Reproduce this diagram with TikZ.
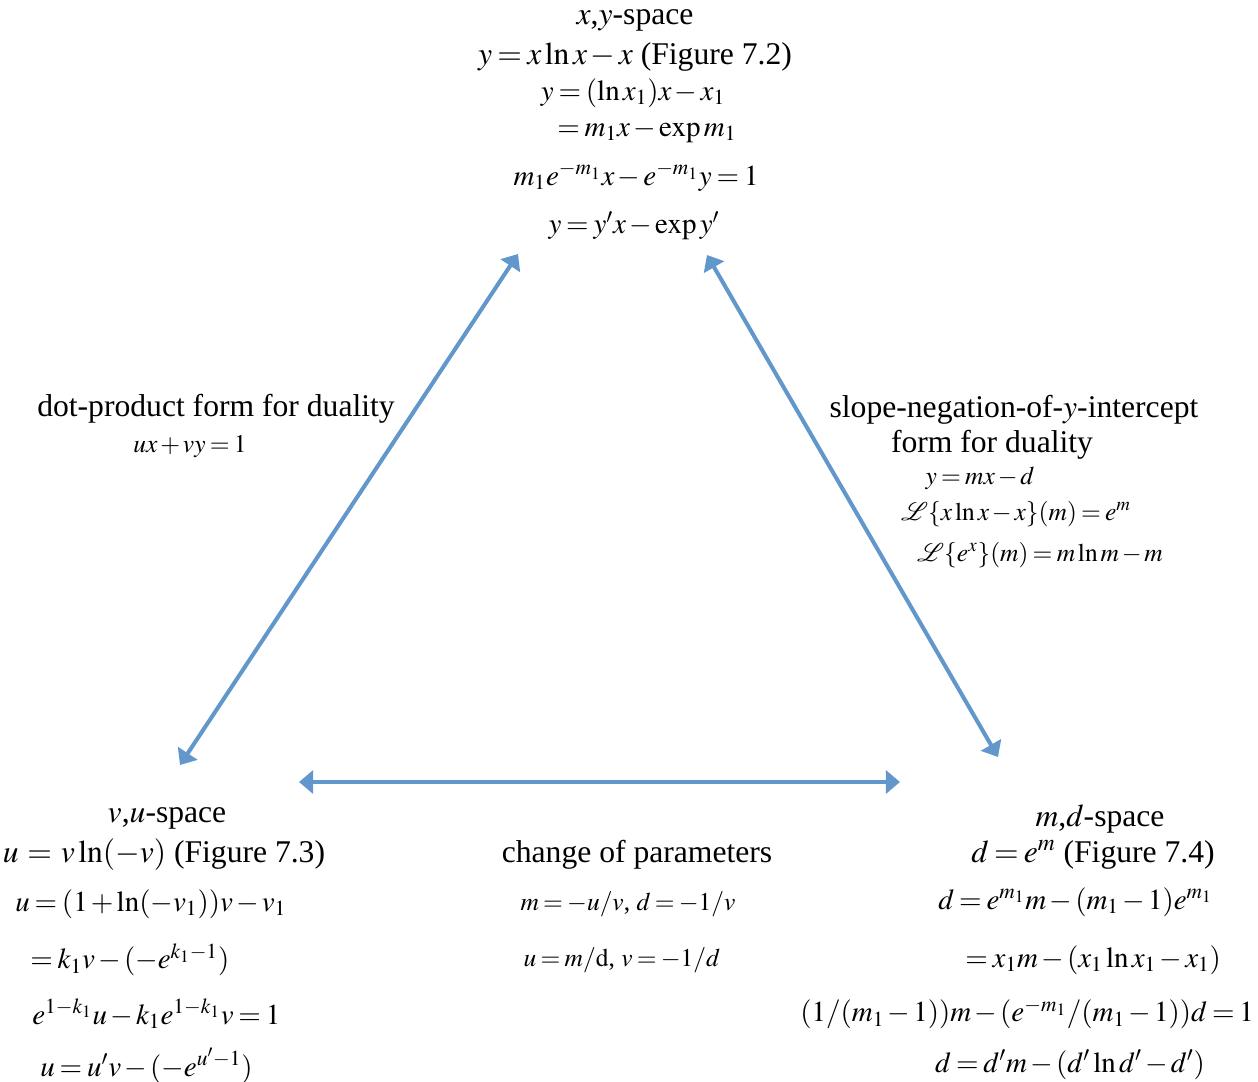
\documentclass[tikz,border=0pt]{standalone}
\usepackage{mathptmx}
\usepackage{fontspec}
\setmainfont{Liberation Serif}
\usetikzlibrary{arrows.meta}
\definecolor{dualblue}{RGB}{98,151,204}
\thickmuskip=3mu plus 1mu
\medmuskip=2mu plus 1mu
\begin{document}
\begin{tikzpicture}[
    x=0.02cm, y=-0.02cm,
    big/.style={font=\fontsize{18}{21}\selectfont, inner sep=0pt, yshift=-1pt},
    fml/.style={font=\fontsize{16.5}{20}\selectfont, inner sep=0pt, yshift=-1pt},
    sml/.style={font=\fontsize{14.5}{17}\selectfont, inner sep=0pt, yshift=-1pt},
    dual/.style={{Triangle[length=8pt,width=13pt]}-{Triangle[length=8pt,width=13pt]}, line width=2.3pt, dualblue}
  ]
  \useasboundingbox (0,0) rectangle (1258,1082);
  % x,y-space
  \node[big] (xy1) at (635,19) {$x$,$y$-space};
  \node[big] (xy2) at (635,55) {$y = x\ln x - x$ (Figure 7.2)};
  \node[fml] (xy3) at (633,91) {$y = (\ln x_1)x - x_1$};
  \node[fml, anchor=west] (xy4) at (557,129) {$= m_1x - \exp m_1$};
  \node[fml] (xy5) at (636,175) {$m_1e^{-m_1}x - e^{-m_1}y = 1$};
  \node[fml] (xy6) at (634,224) {$y = y'x - \exp y'$};
  % v,u-space
  \node[big] (vu1) at (167,817) {$v$,$u$-space};
  \node[big] (vu2) at (164,853) {$u\,=\,v\ln(-v)$ (Figure 7.3)};
  \node[fml, anchor=west] (vu3) at (15,902) {$u = (1+\ln(-v_1))v - v_1$};
  \node[fml, anchor=west] (vu4) at (30,958) {$= k_1v - (-e^{k_1-1})$};
  \node[fml, anchor=west] (vu5) at (32,1012) {$e^{1-k_1}u - k_1e^{1-k_1}v = 1$};
  \node[fml, anchor=west] (vu6) at (40,1064) {$u = u'v - (-e^{u'-1})$};
  % m,d-space
  \node[big] (md1) at (1100,817) {$m$,$d$-space};
  \node[big] (md2) at (1093,853) {$d = e^m$ (Figure 7.4)};
  \node[fml, anchor=west] (md3) at (938,900) {$d = e^{m_1}m - (m_1-1)e^{m_1}$};
  \node[fml, anchor=west] (md4) at (965,958) {$= x_1m - (x_1\ln x_1 - x_1)$};
  \node[fml, anchor=west] (md5) at (800,1012) {$(1/(m_1-1))m - (e^{-m_1}/(m_1-1))d = 1$};
  \node[fml] (md6) at (1070,1063) {$d = d'm - (d'\ln d' - d')$};
  % edge labels
  \node[big] (dot1) at (216,407) {dot-product form for duality};
  \node[sml] (dot2) at (190,445) {$ux + vy = 1$};
  \node[big] (slp1) at (1014,408) {slope-negation-of-$y$-intercept};
  \node[big] (slp2) at (992,443) {form for duality};
  \node[sml] (slp3) at (980,477) {$y = mx - d$};
  \node[sml] (slp4) at (1016,512) {$\mathcal{L}\{x\ln x - x\}(m) = e^m$};
  \node[sml] (slp5) at (1040,553) {$\mathcal{L}\{e^x\}(m) = m\ln m - m$};
  \node[big] (chg1) at (637,853) {change of parameters};
  \node[sml] (chg2) at (628,902) {$m = -u/v$, $d = -1/v$};
  \node[sml] (chg3) at (622,958) {$u = m/\mathrm{d}$, $v = -1/d$};
  % arrow ends
  \coordinate (xyL) at (518,254);
  \coordinate (xyR) at (707,255);
  \coordinate (vuT) at (180,765);
  \coordinate (vuR) at (299,782);
  \coordinate (mdL) at (900,782);
  \coordinate (mdT) at (998,757);
  \draw[dual] (vuT) -- (xyL);
  \draw[dual] (mdT) -- (xyR);
  \draw[dual] (vuR) -- (mdL);
\end{tikzpicture}
\end{document}
